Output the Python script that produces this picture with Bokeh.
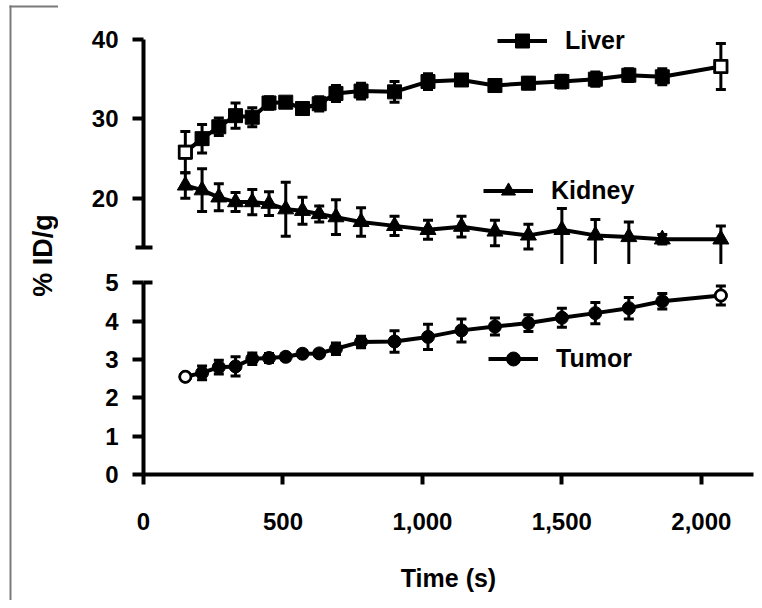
import numpy as np
from bokeh.plotting import figure
from bokeh.layouts import row, column
from bokeh.models import (Range1d, FixedTicker, NumeralTickFormatter, Legend,
                          LegendItem, Label, ColumnDataSource, BoxAnnotation)
from bokeh.embed import file_html
from bokeh.resources import INLINE

# ---------------- data ----------------
time_s = [150, 210, 270, 330, 390, 450, 510, 570, 630, 690, 780, 900,
          1020, 1140, 1260, 1380, 1500, 1620, 1740, 1860, 2070]

liver = [25.8, 27.5, 29.0, 30.4, 30.2, 32.0, 32.1, 31.3, 31.9, 33.2, 33.5,
         33.4, 34.7, 34.9, 34.2, 34.5, 34.7, 35.0, 35.5, 35.3, 36.6]
liver_err = [2.6, 1.8, 1.1, 1.6, 1.2, 0.8, 0.5, 0.5, 0.9, 1.0, 1.0,
             1.3, 1.0, 0.6, 0.5, 0.7, 0.8, 0.9, 0.8, 1.0, 2.9]

kidney = [21.6, 21.0, 20.1, 19.5, 19.5, 19.3, 18.6, 18.4, 18.0, 17.6, 17.0,
          16.5, 16.0, 16.4, 15.8, 15.3, 16.0, 15.3, 15.1, 14.8, 14.8]
kidney_err_hi = [1.6, 2.7, 1.7, 1.2, 1.6, 1.5, 3.4, 1.7, 1.0, 2.2, 1.8,
                 1.2, 1.2, 1.3, 1.4, 1.4, 2.7, 2.0, 1.9, 0.6, 1.7]
kidney_err_lo = [1.6, 2.7, 1.7, 1.2, 1.6, 1.5, 3.4, 1.7, 1.0, 2.2, 1.8,
                 1.2, 1.2, 1.3, 1.8, 1.7, 4.8, 4.0, 3.8, 0.6, 3.4]

tumor = [2.55, 2.65, 2.80, 2.82, 3.02, 3.04, 3.07, 3.15, 3.16, 3.28, 3.46,
         3.47, 3.59, 3.76, 3.86, 3.95, 4.09, 4.21, 4.34, 4.52, 4.67]
tumor_err = [0.05, 0.18, 0.18, 0.25, 0.15, 0.12, 0.08, 0.08, 0.08, 0.15, 0.15,
             0.28, 0.33, 0.30, 0.22, 0.22, 0.25, 0.28, 0.28, 0.20, 0.25]

open_idx = [0, len(time_s) - 1]      # first/last points drawn hollow (Liver, Tumor)

x_ticks = [0, 500, 1000, 1500, 2000]
top_ticks = [20, 30, 40]
bot_ticks = [0, 1, 2, 3, 4, 5]

FONT = "Liberation Sans"
BLACK = "#000000"
FRAME_GREY = "#7a7a7a"


def style_axis(ax, size="24px", standoff=14):
    ax.axis_line_width = 4
    ax.axis_line_color = BLACK
    ax.major_tick_line_width = 4
    ax.major_tick_line_color = BLACK
    ax.major_tick_in = 0
    ax.major_tick_out = 11
    ax.minor_tick_line_width = 4
    ax.minor_tick_line_color = BLACK
    ax.major_label_text_font = FONT
    ax.major_label_text_font_size = size
    ax.major_label_text_font_style = "bold"
    ax.major_label_text_color = BLACK
    ax.major_label_standoff = standoff


def series(p, vals, lo, hi, marker, size, hollow):
    t = np.array(time_s, dtype=float)
    v = np.array(vals, dtype=float)
    lo = np.array(lo, dtype=float)
    hi = np.array(hi, dtype=float)
    src = ColumnDataSource(dict(t=t, v=v, top=v + hi, bot=v - lo))
    p.segment(x0="t", y0="bot", x1="t", y1="top", source=src,
              line_width=3, line_color=BLACK)
    p.scatter(x="t", y="top", source=src, marker="dash", size=10,
              line_width=3, line_color=BLACK)
    p.scatter(x="t", y="bot", source=src, marker="dash", size=10,
              line_width=3, line_color=BLACK)
    r_line = p.line(x="t", y="v", source=src, line_width=4, line_color=BLACK)
    r_pts = p.scatter(x="t", y="v", source=src, marker=marker, size=size,
                      fill_color=BLACK, line_color=BLACK)
    if hollow:
        osrc = ColumnDataSource(dict(t=t[open_idx], v=v[open_idx]))
        p.scatter(x="t", y="v", source=osrc, marker=marker, size=size - 2,
                  fill_color="white", line_color=BLACK, line_width=2.5)
    return r_line, r_pts


def add_legend(p, label, renderers, loc):
    leg = Legend(items=[LegendItem(label=label, renderers=renderers)],
                 location=loc, orientation="vertical",
                 border_line_color=None, background_fill_alpha=0,
                 padding=0, margin=0, spacing=0,
                 glyph_width=50, glyph_height=35, label_height=35,
                 label_standoff=18, label_text_font=FONT,
                 label_text_font_size="25px", label_text_font_style="bold",
                 label_text_color=BLACK)
    p.add_layout(leg, "center")


def frame_strip(p, left, right, top, bottom):
    p.add_layout(BoxAnnotation(left=left, right=right, top=top, bottom=bottom,
                               left_units="canvas", right_units="canvas",
                               top_units="canvas", bottom_units="canvas",
                               fill_color=FRAME_GREY, fill_alpha=1,
                               line_color=None, level="overlay"))


x_range = Range1d(0, 2187)

# ---------------- top panel (Liver, Kidney) ----------------
p_top = figure(width=696, height=264, x_range=x_range,
               y_range=Range1d(11.63, 42.40), x_axis_location=None,
               toolbar_location=None, output_backend="svg",
               min_border_left=85, min_border_right=1,
               min_border_top=20, min_border_bottom=0,
               outline_line_color=None)
p_top.grid.visible = False
ya = p_top.yaxis[0]
ya.ticker = FixedTicker(ticks=top_ticks, minor_ticks=[13.8])
ya.bounds = (13.8, 40)
style_axis(ya)
ya.minor_tick_in = 9
ya.minor_tick_out = 8

l_liver, s_liver = series(p_top, liver, liver_err, liver_err, "square", 14, True)
l_kid, s_kid = series(p_top, kidney, kidney_err_lo, kidney_err_hi, "triangle", 16, False)
add_legend(p_top, "Liver", [l_liver, s_liver], (354, 206.5))
add_legend(p_top, "Kidney", [l_kid, s_kid], (340, 56.5))
frame_strip(p_top, 0, 696, 5, 7)

# ---------------- bottom panel (Tumor) ----------------
p_bot = figure(width=696, height=336, x_range=x_range,
               y_range=Range1d(0, 5.27),
               toolbar_location=None, output_backend="svg",
               min_border_left=85, min_border_right=1,
               min_border_top=8, min_border_bottom=126,
               outline_line_color=None)
p_bot.grid.visible = False
yb = p_bot.yaxis[0]
yb.ticker = FixedTicker(ticks=bot_ticks, minor_ticks=[5])
yb.bounds = (0, 5)
style_axis(yb)
yb.minor_tick_in = 9
yb.minor_tick_out = 0

xa = p_bot.xaxis[0]
xa.ticker = FixedTicker(ticks=x_ticks, minor_ticks=[])
xa.formatter = NumeralTickFormatter(format="0,0")
style_axis(xa, standoff=28)
xa.major_tick_out = 10
xa.axis_label = "Time (s)"
xa.axis_label_text_font = FONT
xa.axis_label_text_font_size = "25px"
xa.axis_label_text_font_style = "bold"
xa.axis_label_text_color = BLACK
xa.axis_label_standoff = 31

l_tum, s_tum = series(p_bot, tumor, tumor_err, tumor_err, "circle", 13, True)
add_legend(p_bot, "Tumor", [l_tum, s_tum], (345, 98.5))

# ---------------- shared y-axis title ----------------
p_lab = figure(width=58, height=600, x_range=Range1d(0, 58),
               y_range=Range1d(0, 600), x_axis_location=None,
               y_axis_location=None, toolbar_location=None,
               output_backend="svg", min_border=0, outline_line_color=None)
p_lab.xgrid.visible = False
p_lab.ygrid.visible = False
p_lab.add_layout(Label(x=42, y=345, text="% ID/g", angle=np.pi / 2,
                       text_align="center", text_baseline="middle",
                       text_font=FONT, text_font_size="27px",
                       text_font_style="bold", text_color=BLACK))
frame_strip(p_lab, 9, 58, 5, 7)
frame_strip(p_lab, 9, 11, 5, 600)

layout = row(p_lab, column(p_top, p_bot, spacing=0), spacing=0)

open("out.html", "w").write(file_html(layout, INLINE))
